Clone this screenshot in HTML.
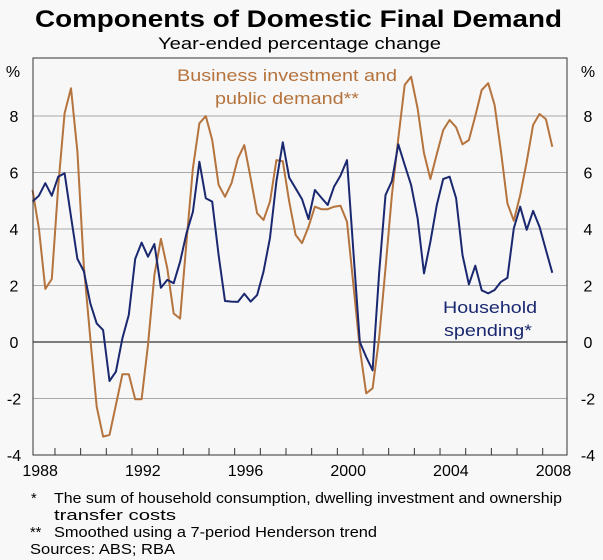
<!DOCTYPE html>
<html><head><meta charset="utf-8"><style>
body{margin:0;background:#fff;}
svg{display:block;font-family:"Liberation Sans",Arial,sans-serif;}
</style></head><body>
<svg id="chart" width="603" height="560" viewBox="0 0 603 560" xmlns="http://www.w3.org/2000/svg">
<rect x="0" y="0" width="603" height="560" fill="#f8f8f8"/>
<text x="35" y="27" font-size="24" font-weight="bold" fill="#000" textLength="527" lengthAdjust="spacingAndGlyphs">Components of Domestic Final Demand</text>
<text x="158" y="49" font-size="17" fill="#000" textLength="283" lengthAdjust="spacingAndGlyphs">Year-ended percentage change</text>
<rect x="33" y="58" width="534" height="397" fill="#f7f7f7"/>
<g id="grid"></g>
<g id="series"></g>
<rect x="33" y="58" width="534" height="397" fill="none" stroke="#333" stroke-width="1"/>
<g id="ticks"></g>
<text x="13" y="77" text-anchor="middle" font-size="16">%</text>
<text x="588" y="77" text-anchor="middle" font-size="16">%</text>
<g fill="#b5733d" font-size="17">
<text x="177" y="81" textLength="220" lengthAdjust="spacingAndGlyphs">Business investment and</text>
<text x="215" y="104" textLength="144" lengthAdjust="spacingAndGlyphs">public demand**</text>
</g>
<g fill="#1a2870" font-size="17">
<text x="443" y="313" textLength="94" lengthAdjust="spacingAndGlyphs">Household</text>
<text x="444" y="336" textLength="88" lengthAdjust="spacingAndGlyphs">spending*</text>
</g>
<g font-size="14.5" fill="#000">
<text x="31" y="503">*</text><text x="54" y="503" textLength="508" lengthAdjust="spacingAndGlyphs">The sum of household consumption, dwelling investment and ownership</text>
<text x="54" y="520" textLength="122" lengthAdjust="spacingAndGlyphs">transfer costs</text>
<text x="30" y="537">**</text><text x="54" y="537" textLength="323" lengthAdjust="spacingAndGlyphs">Smoothed using a 7-period Henderson trend</text>
<text x="30" y="554" textLength="145" lengthAdjust="spacingAndGlyphs">Sources:  ABS; RBA</text>
</g>
</svg>
<script>
const household=[4.97,5.18,5.62,5.18,5.85,5.97,4.44,2.94,2.51,1.37,0.66,0.42,-1.38,-1.05,0.13,0.96,2.94,3.52,3.02,3.47,1.92,2.2,2.08,2.84,3.85,4.61,6.38,5.09,4.97,3.08,1.45,1.43,1.42,1.71,1.43,1.66,2.49,3.69,5.68,7.07,5.82,5.44,5.06,4.35,5.38,5.11,4.85,5.5,5.89,6.44,3.2,0.0,-0.53,-1.0,2.43,5.2,5.7,7.0,6.27,5.56,4.38,2.43,3.55,4.85,5.77,5.85,5.09,3.08,2.04,2.7,1.83,1.72,1.84,2.13,2.27,4.02,4.79,3.97,4.64,4.08,3.26,2.45];
const business=[5.38,4.02,1.88,2.23,5.5,8.1,8.98,6.74,2.7,0.13,-2.29,-3.35,-3.29,-2.23,-1.14,-1.14,-2.03,-2.03,-0.1,2.37,3.65,2.61,1.01,0.83,3.55,6.15,7.74,8.0,7.15,5.56,5.14,5.62,6.5,6.97,5.79,4.56,4.32,4.97,6.44,6.4,4.97,3.79,3.5,4.08,4.79,4.7,4.7,4.79,4.82,4.26,2.02,-0.22,-1.82,-1.64,0.13,2.61,5.2,7.21,9.1,9.39,8.27,6.68,5.77,6.65,7.5,7.86,7.6,7.0,7.15,8.0,8.92,9.16,8.39,6.74,4.91,4.29,5.2,6.38,7.68,8.07,7.89,6.91];
const yTicks=[-4,-2,0,2,4,6,8];
const xLabels=[1988,1992,1996,2000,2004,2008];
const startYear=1988.125;
const NS="http://www.w3.org/2000/svg";
function xs(t){return 29.3+(t-1988)*25.67;}
function ys(v){return 342-v*28.25;}
function mk(tag,attrs,parent){const e=document.createElementNS(NS,tag);for(const k in attrs)e.setAttribute(k,attrs[k]);parent.appendChild(e);return e;}
const grid=document.getElementById('grid'),ticks=document.getElementById('ticks'),ser=document.getElementById('series');
yTicks.forEach(v=>{
  if(v>-4){const l=mk('line',{x1:33,x2:567,y1:ys(v),y2:ys(v),stroke:v===0?'#000':'#a8a8a8','stroke-width':1},grid);
  
  }
  const a=mk('text',{x:14,y:ys(v)+6,'text-anchor':'middle','font-size':16},ticks);a.textContent=v;
  
  
  const b=mk('text',{x:588,y:ys(v)+6,'text-anchor':'middle','font-size':16},ticks);b.textContent=v;
  
  
});
for(let y=1989;y<=2008;y++){const t=mk('line',{x1:xs(y),x2:xs(y),y1:455,y2:448,stroke:'#333','stroke-width':1},ticks);
  
  }
xLabels.forEach(y=>{const t=mk('text',{x:xs(y+0.5)-2,y:476,'text-anchor':'middle','font-size':16},ticks);t.textContent=y;
  
  });
function line(data){return data.map((v,i)=>(i?'L':'M')+xs(startYear+i*0.25).toFixed(1)+','+ys(v).toFixed(1)).join('');}
const pb=mk('path',{d:line(business),fill:'none',stroke:'#b5733d','stroke-width':2,'stroke-linejoin':'round'},ser);


const ph=mk('path',{d:line(household),fill:'none',stroke:'#1a2870','stroke-width':2,'stroke-linejoin':'round'},ser);


</script>
</body></html>
